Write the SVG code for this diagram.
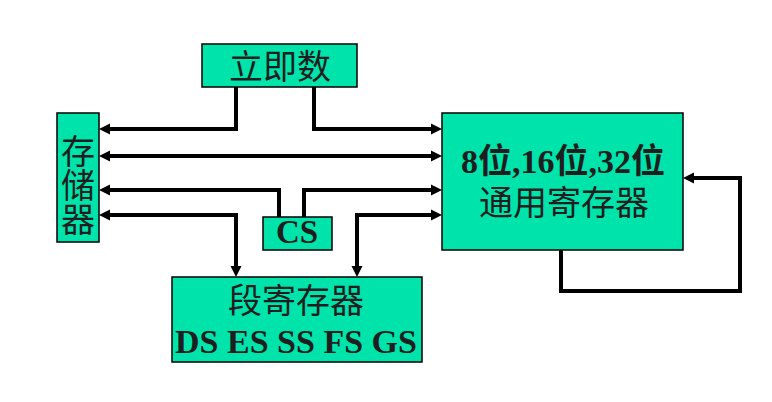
<svg xmlns="http://www.w3.org/2000/svg" width="772" height="402" viewBox="0 0 772 402">
<style>
.box{fill:#00E3AA;stroke:#000;stroke-width:1.5}
.cjk{font-family:"Liberation Serif","Noto Sans CJK SC",serif;font-size:34px;fill:#1e1e1e;text-anchor:middle}
.b{font-weight:bold}
.conn path{fill:none;stroke:#000;stroke-width:4}
</style>
<defs>
<marker id="ah" markerUnits="userSpaceOnUse" markerWidth="12" markerHeight="12" viewBox="0 0 12 12" refX="6" refY="6" orient="auto-start-reverse">
<path d="M0,0.5 L11,6 L0,11.5 z" fill="#000"/>
</marker>
</defs>
<rect width="772" height="402" fill="#fff"/>
<g class="conn">
<path d="M236,87 V129 H104" marker-end="url(#ah)"/>
<path d="M314,87 V129 H437" marker-end="url(#ah)"/>
<path d="M104,156 H437" marker-start="url(#ah)" marker-end="url(#ah)"/>
<path d="M279,217 V190 H104" marker-end="url(#ah)"/>
<path d="M304,217 V190 H437" marker-end="url(#ah)"/>
<path d="M236,272 V215 H104" marker-start="url(#ah)" marker-end="url(#ah)"/>
<path d="M357,272 V215 H437" marker-start="url(#ah)" marker-end="url(#ah)"/>
<path d="M561,250 V291 H740 V178 H688" marker-end="url(#ah)"/>
</g>
<g id="liji">
<rect class="box" x="202" y="44" width="155" height="43"/>
<text class="cjk" x="280" y="79">立即数</text>
</g>
<g id="cunchuqi">
<rect class="box" x="57" y="113" width="42" height="129"/>
<text class="cjk" x="78" y="164">存</text>
<text class="cjk" x="78" y="198">储</text>
<text class="cjk" x="78" y="232">器</text>
</g>
<g id="cs">
<rect class="box" x="263" y="217" width="69" height="33"/>
<text class="cjk b" x="297" y="243" style="font-size:33px">CS</text>
</g>
<g id="gpr">
<rect class="box" x="442" y="113" width="241" height="137"/>
<text class="cjk b" x="563" y="173">8位,16位,32位</text>
<text class="cjk" x="564" y="215">通用寄存器</text>
</g>
<g id="seg">
<rect class="box" x="172" y="277" width="250" height="85"/>
<text class="cjk" x="296" y="313">段寄存器</text>
<text class="cjk b" x="296" y="353">DS ES SS FS GS</text>
</g>
</svg>
